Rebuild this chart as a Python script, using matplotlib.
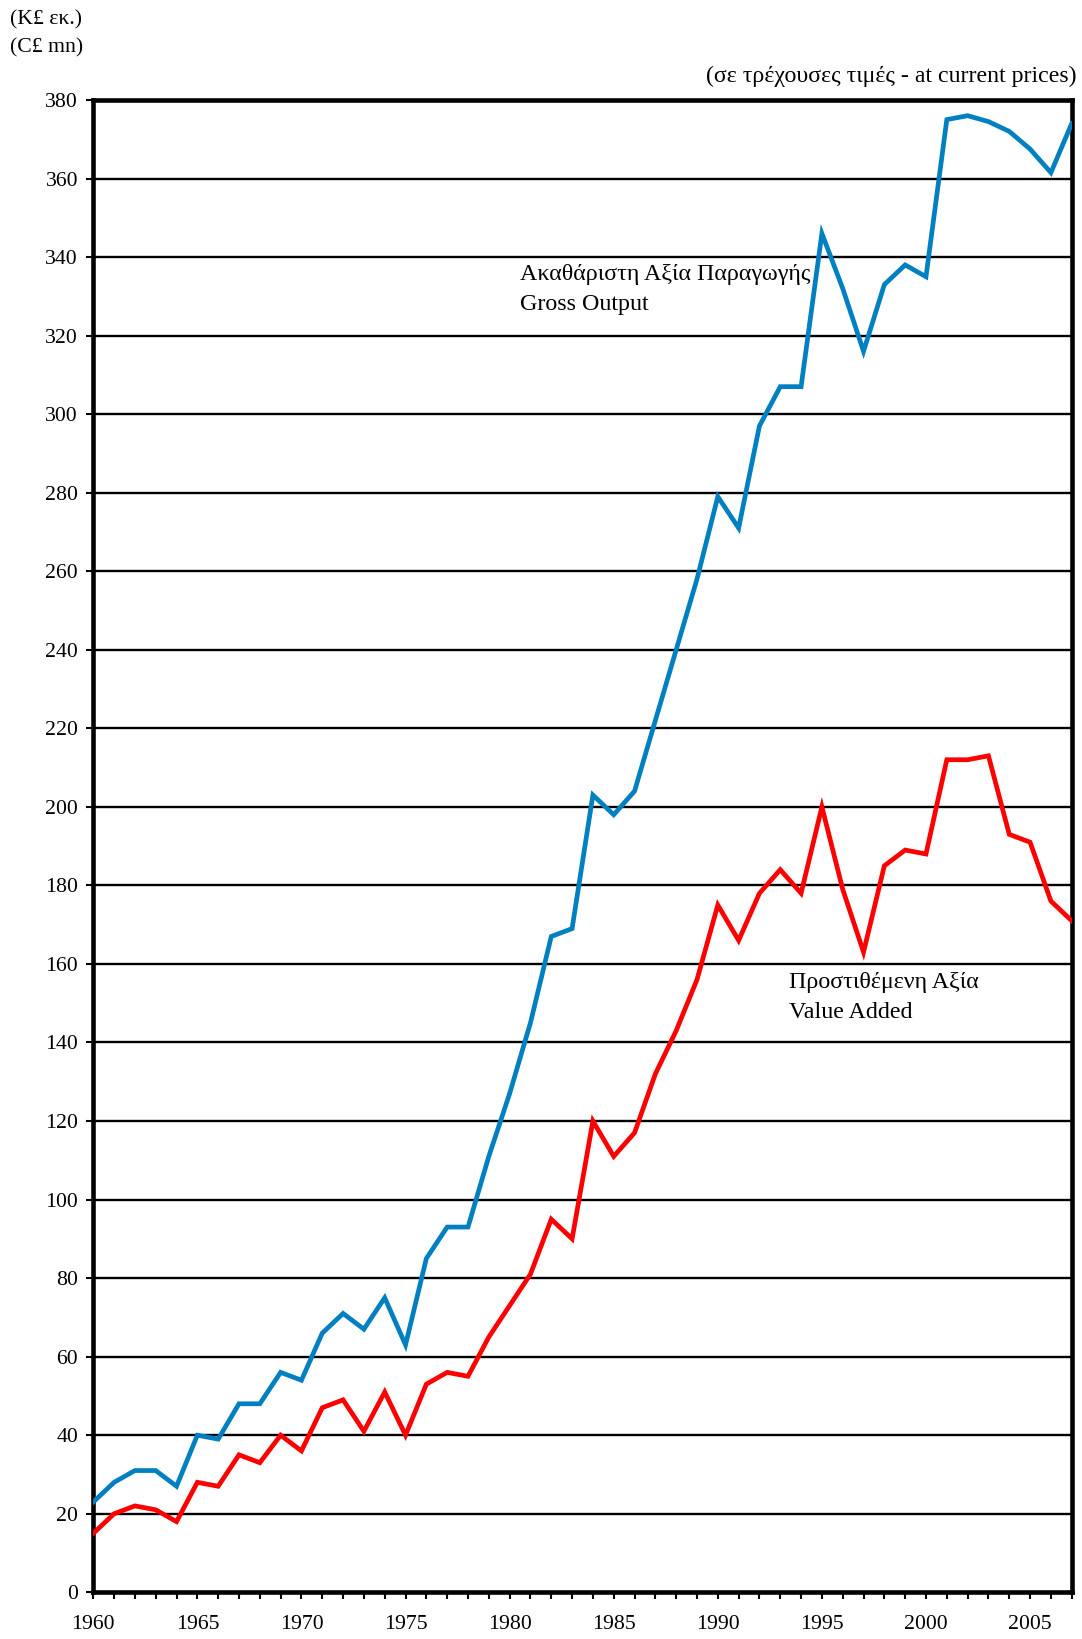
import matplotlib
matplotlib.use('Agg')
import matplotlib.pyplot as plt
import numpy as np

plt.rcParams['font.family'] = ['Liberation Serif', 'DejaVu Serif']

years = list(range(1960, 2008))

# Ακαθάριστη Αξία Παραγωγής / Gross Output
gross_output = [23, 28, 31, 31, 27, 40, 39, 48, 48, 56,
                54, 66, 71, 67, 75, 63, 85, 93, 93, 111,
                127, 145, 167, 169, 203, 198, 204, 222, 240, 258,
                279, 271, 297, 307, 307, 346, 332, 316, 333, 338,
                335, 375, 376, 374.5, 372, 367.5, 361.5, 374]

# Προστιθέμενη Αξία / Value Added
value_added = [15, 20, 22, 21, 18, 28, 27, 35, 33, 40,
               36, 47, 49, 41, 51, 40, 53, 56, 55, 65,
               73, 81, 95, 90, 120, 111, 117, 132, 143, 156,
               175, 166, 178, 184, 178, 200, 179, 163, 185, 189,
               188, 212, 212, 213, 193, 191, 176, 171]

y_ticks = list(range(0, 381, 20))
x_labels = list(range(1960, 2006, 5))

fig = plt.figure(figsize=(10.82, 16.39), dpi=100)
ax = fig.add_axes([0.0862, 0.0285, 0.9043, 0.9105])

# οριζόντιες γραμμές πλέγματος
for v in y_ticks[1:-1]:
    ax.axhline(v, color='black', linewidth=1.7, zorder=1)

ax.plot(years, gross_output, color='#0080C0', linewidth=3.4, zorder=3,
        solid_joinstyle='miter')
ax.plot(years, value_added, color='#FF0000', linewidth=3.4, zorder=3,
        solid_joinstyle='miter')

ax.set_xlim(1960, 2007)
ax.set_ylim(0, 380)
ax.set_yticks(y_ticks)
ax.set_xticks(years, minor=True)
ax.set_xticks(x_labels)
ax.tick_params(axis='both', which='both', direction='out', width=1.5,
               length=5, labelsize=15.7, colors='black')
ax.tick_params(axis='x', which='major', pad=11)
ax.tick_params(axis='y', pad=6)

for sp in ax.spines.values():
    sp.set_linewidth(3.3)
    sp.set_color('black')

ax.text(1980.5, 335.5, 'Ακαθάριστη Αξία Παραγωγής', fontsize=17.3, va='center', ha='left')
ax.text(1980.5, 328.0, 'Gross Output', fontsize=17.3, va='center', ha='left')
ax.text(1993.4, 155.3, 'Προστιθέμενη Αξία', fontsize=17.3, va='center', ha='left')
ax.text(1993.4, 147.6, 'Value Added', fontsize=17.3, va='center', ha='left')

fig.text(0.0092, 0.9878, '(K£ εκ.)', fontsize=15.7, va='center', ha='left')
fig.text(0.0092, 0.9707, '(C£ mn)', fontsize=15.7, va='center', ha='left')
fig.text(0.9945, 0.9536, '(σε τρέχουσες τιμές - at current prices)', fontsize=17.2,
         va='center', ha='right')

fig.savefig('out.png', dpi=100)
plt.close(fig)
